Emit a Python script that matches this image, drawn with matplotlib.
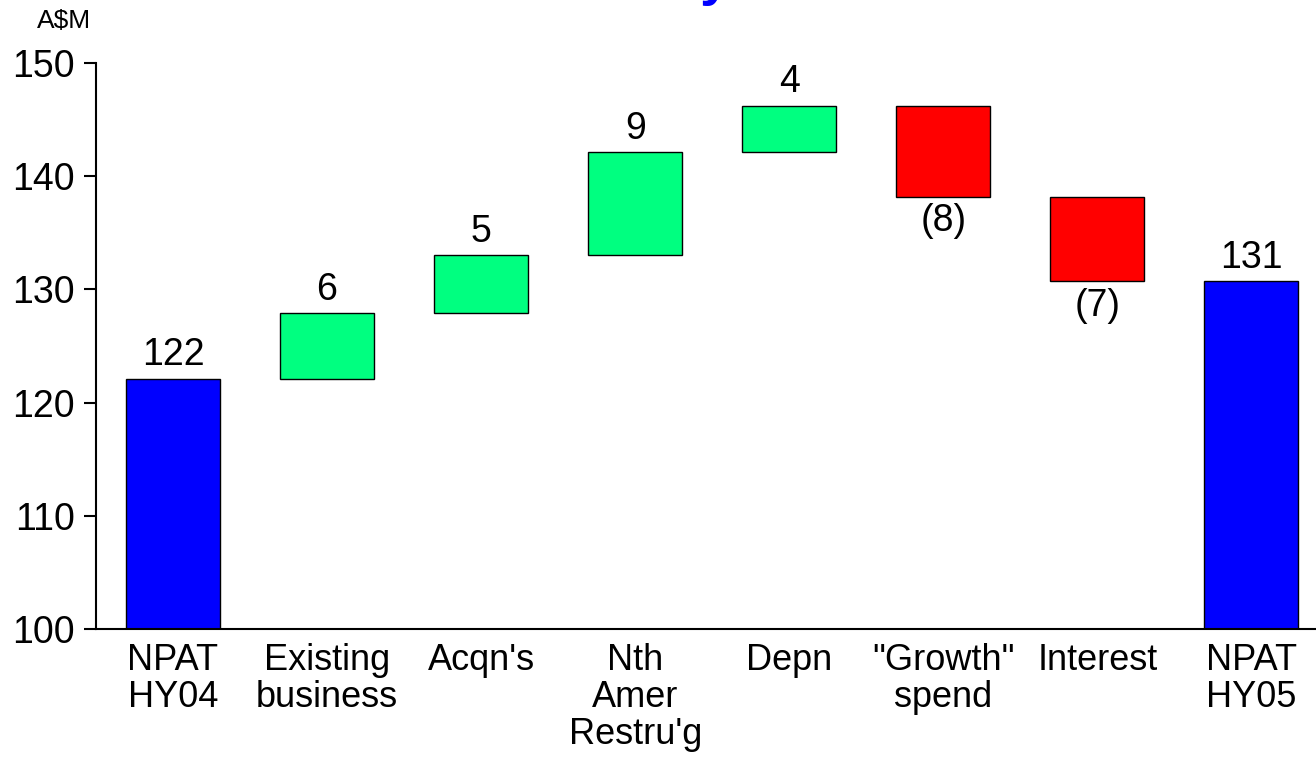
import matplotlib
matplotlib.use("Agg")
import matplotlib.pyplot as plt

plt.rcParams['font.family'] = ['Liberation Sans', 'DejaVu Sans']

categories = ["NPAT\nHY04", "Existing\nbusiness", "Acqn's", "Nth\nAmer\nRestru'g",
              "Depn", "\"Growth\"\nspend", "Interest", "NPAT\nHY05"]
start_value = 122.1
deltas = [5.8, 5.1, 9.1, 4.1, -8.0, -7.5]
labels = ["122", "6", "5", "9", "4", "(8)", "(7)", "131"]

BLUE = "#0000ff"
GREEN = "#00ff80"
RED = "#ff0000"

fig = plt.figure(figsize=(13.16, 7.57), dpi=100)
ax = fig.add_axes([96 / 1316, 1 - 629 / 757, 1 - 96 / 1316, (629 - 63) / 757])

# build waterfall bottoms/heights
bottoms, heights, colors = [100], [start_value - 100], [BLUE]
running = start_value
for d in deltas:
    if d >= 0:
        bottoms.append(running)
        heights.append(d)
        colors.append(GREEN)
    else:
        bottoms.append(running + d)
        heights.append(-d)
        colors.append(RED)
    running += d
bottoms.append(100)
heights.append(running - 100)
colors.append(BLUE)

x = list(range(len(categories)))
ax.bar(x, heights, bottom=bottoms, width=0.61, color=colors,
       edgecolor="black", linewidth=1)

for i, lab in enumerate(labels):
    top = bottoms[i] + heights[i]
    if i in (0, len(labels) - 1) or deltas[i - 1] >= 0:
        ax.text(i, top + 0.5, lab, ha="center", va="bottom", fontsize=27)
    else:
        ax.text(i, bottoms[i] - 0.6, lab, ha="center", va="top", fontsize=27)

ax.set_xlim(-0.5, 7.42)
ax.set_ylim(100, 150)
ax.set_yticks([100, 110, 120, 130, 140, 150])
ax.set_xticks(x)
ax.set_xticklabels(categories, fontsize=26, linespacing=1.08)
ax.tick_params(axis="y", labelsize=27, length=9, width=1.5, direction="out", pad=6)
ax.tick_params(axis="x", length=0, pad=10)
for s in ("top", "right"):
    ax.spines[s].set_visible(False)
for s in ("left", "bottom"):
    ax.spines[s].set_linewidth(1.5)

fig.text(37 / 1316, 1 - 28 / 757, "A$M", fontsize=19, ha="left", va="baseline")
# title cut off at the top of the slide; only a descender shows
fig.text(715 / 1316, 1 + 6 / 757, "y", fontsize=40, fontweight="bold",
         color=BLUE, ha="center", va="baseline")

fig.savefig("out.png", dpi=100)
